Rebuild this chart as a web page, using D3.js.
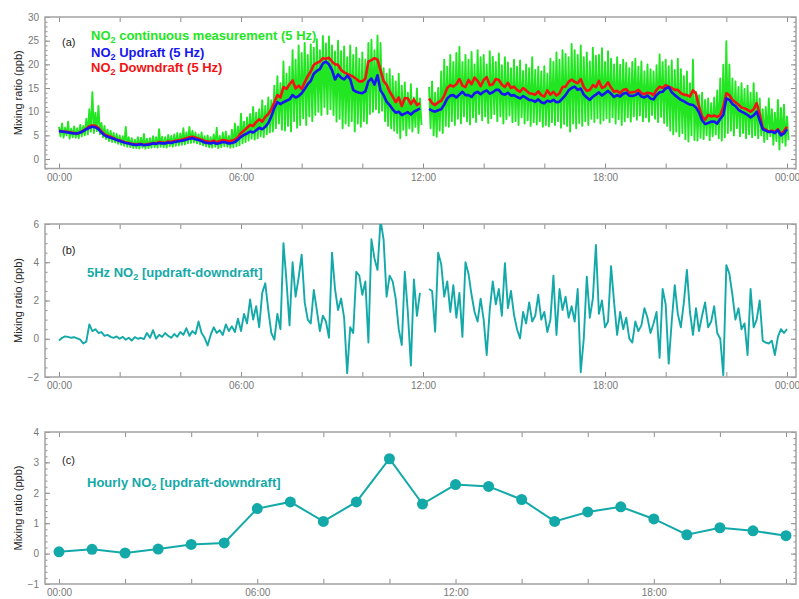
<!DOCTYPE html>
<html>
<head>
<meta charset="utf-8">
<script src="https://cdn.jsdelivr.net/npm/d3@7"></script>
<style>
  body { margin: 0; background: #fff; }
  svg { display: block; font-family: "Liberation Sans", Arial, sans-serif; }
</style>
</head>
<body>
<svg id="chart" width="799" height="599"></svg>
<script>
// Sampling interval of the 5 Hz series after block averaging (hours)
const step = 0.1;

// NO2 updraft (ppb), one row per hour, 0.1 h apart; null = no data
const upVals = [
  5.9, 5.8, 5.7, 5.6, 5.5, 5.4, 5.4, 5.6, 5.9, 6.3,
  6.6, 6.8, 6.7, 6.3, 5.6, 5.0, 4.7, 4.5, 4.3, 4.0,
  3.8, 3.6, 3.4, 3.3, 3.1, 3.0, 3.0, 3.1, 2.9, 3.0,
  3.1, 3.3, 3.2, 3.4, 3.3, 3.3, 3.5, 3.4, 3.6, 3.7,
  3.8, 3.9, 4.1, 4.3, 4.4, 4.2, 4.0, 3.8, 3.5, 3.4,
  3.3, 3.5, 3.2, 3.4, 3.6, 3.5, 3.3, 3.4, 3.6, 4.1,
  4.7, 5.1, 5.4, 5.8, 5.6, 6.1, 6.6, 6.3, 6.8, 7.6,
  9.0, 10.8, 12.0, 11.6, 12.0, 12.3, 12.6, 13.5, 13.0, 13.3,
  13.9, 14.8, 15.8, 16.5, 18.0, 18.6, 19.0, 20.2, 20.6, 20.0,
  18.8, 16.8, 17.9, 17.2, 16.8, 17.6, 16.9, 14.6, 14.2, 14.0,
  13.9, 14.3, 16.4, 17.0, 15.7, 17.7, 14.5, 13.5, 12.1, 11.4,
  10.5, 9.8, 10.0, 9.3, 9.6, 9.9, 9.4, 10.0, 10.3, 10.7,
  null, null, 10.6, 10.2, 10.0, 10.3, 10.5, 11.5, 12.8, 13.4,
  13.5, 13.0, 13.6, 14.2, 13.5, 13.5, 13.1, 13.9, 14.2, 13.7,
  14.2, 14.5, 13.8, 14.1, 14.6, 14.6, 13.8, 13.6, 14.0, 13.4,
  13.5, 13.1, 12.8, 13.3, 12.9, 12.5, 12.4, 12.1, 12.6, 12.0,
  11.8, 12.3, 12.1, 12.5, 12.0, 12.1, 12.8, 13.5, 14.5, 15.0,
  15.3, 14.6, 14.9, 13.6, 13.0, 12.5, 13.2, 13.6, 14.1, 13.4,
  13.9, 14.4, 13.8, 13.1, 13.5, 13.2, 13.8, 14.0, 13.4, 13.3,
  13.5, 13.9, 13.2, 13.0, 13.4, 12.8, 12.6, 13.5, 14.1, 14.2,
  14.9, 15.2, 14.1, 13.5, 13.0, 12.5, 12.2, 11.8, 11.5, 11.4,
  10.9, 9.8, 8.2, 7.4, 7.6, 7.9, 7.9, 7.5, 8.5, 9.3,
  12.8, 12.5, 11.6, 11.2, 10.4, 10.0, 9.7, 9.3, 8.8, 9.2,
  10.0, 8.2, 6.3, 6.0, 5.7, 5.8, 5.5, 6.1, 5.0, 5.4,
  6.3
];

// NO2 downdraft (ppb)
const downVals = [
  6.0, 5.8, 5.8, 5.7, 5.6, 5.5, 5.4, 5.6, 6.0, 6.4,
  6.9, 7.1, 7.0, 6.6, 5.8, 5.2, 4.9, 4.7, 4.4, 4.1,
  3.9, 3.7, 3.5, 3.4, 3.2, 3.1, 3.1, 3.2, 3.0, 3.1,
  3.2, 3.4, 3.3, 3.6, 3.5, 3.4, 3.7, 3.6, 3.8, 3.9,
  4.0, 4.2, 4.4, 4.6, 4.7, 4.5, 4.3, 4.1, 3.8, 3.7,
  3.6, 3.9, 3.5, 3.8, 4.0, 3.9, 3.7, 3.9, 4.1, 4.6,
  5.5, 6.0, 6.6, 7.2, 7.0, 7.8, 8.4, 7.9, 8.9, 9.5,
  10.5, 12.0, 13.5, 13.0, 15.2, 14.8, 15.8, 16.6, 14.9, 15.5,
  14.8, 16.2, 17.5, 18.5, 19.9, 20.3, 20.6, 21.3, 21.2, 21.4,
  20.6, 20.0, 19.9, 18.8, 18.3, 18.0, 17.7, 17.4, 16.9, 16.4,
  16.4, 17.0, 20.6, 20.9, 21.3, 21.0, 18.8, 16.5, 15.7, 14.2,
  13.2, 12.0, 13.0, 11.2, 12.9, 12.8, 11.6, 12.6, 11.4, 11.8,
  null, null, 12.8, 11.8, 11.4, 12.0, 12.3, 13.4, 15.0, 15.6,
  15.3, 15.8, 16.9, 15.5, 15.2, 16.7, 15.8, 17.2, 16.5, 15.4,
  16.7, 17.3, 15.6, 15.8, 16.9, 16.7, 15.7, 15.2, 16.1, 15.0,
  15.3, 14.6, 14.2, 15.0, 14.5, 13.9, 13.8, 13.6, 14.3, 13.5,
  13.2, 14.5, 13.6, 14.2, 13.4, 13.9, 15.2, 15.3, 16.3, 16.8,
  16.3, 16.0, 16.9, 15.2, 14.4, 14.6, 15.6, 15.2, 16.5, 15.0,
  15.3, 16.2, 15.1, 14.2, 14.4, 13.9, 14.6, 14.8, 14.0, 14.1,
  14.2, 14.6, 13.9, 13.7, 14.0, 13.9, 13.5, 14.6, 15.3, 15.0,
  15.6, 15.3, 15.0, 14.6, 14.6, 13.9, 13.6, 13.5, 13.2, 14.5,
  13.8, 11.0, 9.0, 8.3, 9.3, 9.0, 9.2, 8.9, 9.3, 11.0,
  13.9, 13.5, 12.5, 12.0, 11.5, 10.9, 10.7, 10.4, 10.0, 10.5,
  11.8, 9.5, 6.5, 6.2, 5.8, 6.0, 5.7, 6.3, 5.3, 5.9,
  6.8
];

// Continuous NO2 measurement: upper and lower excursions in each 0.1 h block (ppb)
const contHigh = [
  6.8, 7.5, 6.6, 7.9, 6.4, 6.9, 6.5, 7.2, 7.0, 8.5,
  10.5, 14.1, 9.8, 11.2, 7.6, 7.0, 6.2, 6.0, 5.5, 5.3,
  5.0, 4.8, 6.8, 4.6, 4.4, 4.1, 4.6, 4.5, 5.3, 4.3,
  4.4, 4.8, 4.6, 6.3, 4.7, 4.6, 5.1, 4.9, 5.2, 5.5,
  5.4, 6.5, 5.6, 6.8, 6.0, 5.6, 5.2, 5.6, 4.8, 5.0,
  4.6, 5.2, 6.6, 4.9, 5.6, 5.8, 4.9, 6.2, 7.5, 6.9,
  9.6, 7.9, 8.8, 9.5, 11.0, 9.8, 10.5, 12.4, 11.2, 13.0,
  12.4, 15.5, 17.5, 16.0, 20.6, 18.0, 19.5, 23.0, 21.0, 24.0,
  22.4, 24.5, 22.0, 24.2, 23.5, 25.3, 23.0, 26.0, 24.4, 25.9,
  24.0, 22.7, 25.0, 22.8, 23.8, 21.5, 24.0, 22.0, 23.5, 21.2,
  22.5, 21.0, 24.5, 25.2, 23.0, 26.1, 24.5, 19.2, 18.0, 19.0,
  17.5, 16.4, 18.0, 15.5, 16.2, 14.0, 15.8, 13.0, 14.9, 12.8,
  null, null, 15.2, 16.4, 14.0, 15.0, 18.5, 21.0, 19.5, 22.0,
  20.5, 22.4, 23.7, 20.5, 22.0, 21.0, 22.6, 20.0, 23.0, 21.5,
  22.0, 20.0, 22.8, 21.6, 20.5, 22.3, 19.8, 21.5, 20.4, 19.2,
  21.0, 19.5, 20.8, 18.6, 20.0, 19.2, 21.5, 18.8, 19.5, 18.5,
  19.6, 18.0, 21.2, 20.5, 22.5, 21.0, 23.0, 22.2, 21.5, 24.3,
  23.0, 22.0, 24.0, 21.5, 22.5, 20.6, 23.5, 21.8, 22.0, 23.4,
  20.5, 22.8, 21.2, 20.0, 21.5, 19.9, 21.0, 20.3, 19.2, 20.5,
  21.2, 19.5, 20.6, 18.5, 20.0, 19.0, 18.5, 19.8, 22.1, 20.5,
  21.0, 19.6, 20.8, 18.8, 21.2, 19.0, 17.5, 18.5, 16.0, 21.0,
  14.2, 13.5, 14.0, 12.5, 12.8, 11.8, 13.0, 14.5, 17.0, 19.9,
  24.9, 20.0, 17.0, 16.4, 15.2, 16.0, 14.8, 15.5, 14.0, 16.0,
  14.0, 12.8, 10.5, 11.0, 12.8, 10.5, 9.8, 12.5, 10.8, 11.5,
  9.0
];
const contLow = [
  4.8, 4.5, 5.0, 4.3, 4.6, 4.5, 4.4, 4.8, 5.0, 5.2,
  5.8, 5.5, 5.9, 5.2, 4.6, 4.2, 3.8, 3.6, 3.5, 3.2,
  3.0, 2.8, 2.6, 2.5, 2.3, 2.3, 2.2, 2.4, 2.2, 2.3,
  2.4, 2.5, 2.4, 2.6, 2.5, 2.4, 2.7, 2.6, 2.8, 2.9,
  3.0, 3.1, 3.3, 3.4, 3.5, 3.3, 3.1, 2.9, 2.7, 2.5,
  2.4, 2.6, 2.3, 2.5, 2.7, 2.6, 2.4, 2.5, 2.7, 2.9,
  3.3, 3.6, 3.9, 4.3, 4.1, 4.4, 4.8, 4.6, 5.2, 5.6,
  5.8, 6.5, 7.5, 6.2, 6.0, 7.0, 5.8, 8.0, 6.6, 7.2,
  8.6, 7.2, 9.0, 8.0, 9.3, 10.0, 9.3, 11.0, 9.5, 10.5,
  9.3, 7.9, 8.5, 6.5, 7.5, 7.0, 8.0, 5.8, 7.5, 6.8,
  8.0, 7.5, 9.5, 10.0, 10.5, 9.8, 10.2, 8.0, 7.0, 6.5,
  6.0, 5.5, 4.4, 6.2, 5.0, 6.5, 5.8, 6.8, 5.5, 7.2,
  null, null, 6.5, 5.0, 4.7, 6.0, 5.5, 7.0, 6.8, 8.0,
  7.2, 8.5, 7.5, 9.0, 8.0, 7.3, 8.8, 7.8, 9.5, 8.2,
  9.0, 7.6, 8.6, 9.5, 8.0, 9.0, 7.5, 8.4, 9.2, 7.8,
  8.0, 7.2, 8.8, 7.5, 8.2, 7.0, 7.8, 7.3, 8.0, 6.8,
  7.2, 6.9, 7.8, 7.2, 8.0, 6.6, 7.4, 7.0, 5.8, 7.5,
  6.5, 7.6, 7.0, 8.0, 7.2, 8.5, 7.8, 8.6, 7.5, 8.2,
  8.6, 7.8, 8.8, 7.5, 8.4, 7.2, 8.0, 8.8, 7.9, 9.0,
  8.3, 9.2, 8.0, 8.8, 7.9, 9.3, 8.5, 7.8, 8.9, 7.6,
  7.0, 6.0, 5.2, 5.8, 4.8, 5.5, 4.2, 3.7, 5.0, 4.0,
  3.9, 4.5, 4.2, 5.0, 4.0, 4.8, 5.2, 4.4, 3.9, 4.6,
  5.5, 6.0, 5.0, 6.5, 4.8, 5.5, 4.4, 5.2, 4.6, 5.0,
  4.4, 5.0, 3.6, 4.2, 4.8, 3.0, 3.8, 2.0, 3.5, 2.8,
  4.0
];

// 5 Hz NO2 difference [updraft-downdraft] (ppb)
const diffVals = [
  -0.1, 0.05, 0.12, 0.1, 0.05, 0.08, 0.02, -0.05, -0.25, -0.15,
  0.75, 0.4, 0.5, 0.3, 0.35, 0.15, 0.2, 0.1, 0.05, 0.12,
  0.0, 0.1, -0.05, 0.05, -0.1, 0.08, 0.0, 0.05, -0.02, 0.3,
  0.05, 0.45, 0.0, 0.2, 0.1, 0.3, 0.15, 0.05, 0.25, 0.1,
  0.35, 0.2, 0.55, 0.15, 0.4, 0.25, 0.9, 0.3, 0.05, -0.35,
  0.2, 0.6, 0.3, 0.45, 0.2, 0.75, 0.4, 0.65, 0.35, 1.05,
  0.4, 1.3, 0.8, 2.05, 1.0, 1.7, 0.6, 2.4, 2.9, 1.5,
  0.3, -0.05, 1.3, 0.5, 5.0, 3.0, 0.7, 4.0, 2.2, 3.2,
  4.4, 1.9, 1.0, 0.8, 2.55, 1.5, 0.4, 1.2, 0.9, 0.05,
  4.5, 2.6, 1.5, 2.1, 1.1, -1.8, 0.6, 0.3, 3.5, 3.3,
  2.3, 3.0, -0.2, 5.2, 4.2, 3.6, 6.2, 5.2, 2.2, 3.3,
  3.0, 2.1, 0.5, -0.33, 3.5, 1.4, -1.4, 3.1, 1.2, 2.4,
  null, null, 2.6, 2.5, 0.37, 4.5, 3.9, 2.2, 3.0, 1.4,
  2.8, 1.1, 2.4, 0.1, 4.0, 3.4, 2.3, 1.4, 0.9, 2.1,
  1.0, -0.85, 1.5, 3.0, 1.8, 2.6, 1.2, 3.95, 1.6, 2.5,
  1.25, 0.5, 0.02, 1.4, 0.8, 1.9, 0.9, 1.2, 2.3, 1.0,
  1.4, 0.35, 1.0, 3.3, 0.2, 2.6, 1.5, 2.2, 1.1, 1.7,
  0.9, 2.6, -1.75, 0.0, 3.25, 1.1, 2.1, 4.9, 1.3, 2.0,
  0.6, 0.9, 3.8, 1.9, 0.2, 1.4, 0.5, 1.1, 0.02, -0.2,
  0.9, 0.4, 0.7, 1.6, 1.1, 0.3, 0.8, 1.4, -1.0, 2.6,
  1.8, -1.3, 0.9, 2.8, 1.3, 0.6, 1.9, 3.6, 1.4, 0.2,
  1.6, 0.4, 1.2, 1.9, 0.6, 0.9, 1.7, 0.3, 0.0, -1.9,
  3.85, 3.4, 2.3, 1.0, 1.6, 0.5, 0.8, -0.85, 2.6, 0.6,
  1.0, 2.0, -0.1, -0.2, -0.25, -0.1, -0.85, 0.1, 0.5, 0.3,
  0.5
];

// Hourly NO2 difference [updraft-downdraft] (ppb), hours 00..22
const hourlyHours = [0, 1, 2, 3, 4, 5, 6, 7, 8, 9, 10, 11, 12, 13, 14, 15, 16, 17, 18, 19, 20, 21, 22];
const hourlyVals = [0.06, 0.14, 0.02, 0.15, 0.3, 0.35, 1.48, 1.7, 1.06, 1.7, 3.12, 1.63,
                    2.27, 2.21, 1.78, 1.06, 1.37, 1.54, 1.14, 0.62, 0.85, 0.75, 0.59];

// Axis ticks
const dayTicks = [0, 2, 4, 6, 8, 10, 12, 14, 16, 18, 20, 22, 24];
const hourlyTicks = [0, 2, 4, 6, 8, 10, 12, 14, 16, 18, 20, 22];
const labelledHours = [0, 6, 12, 18, 24];
const yTicksA = [0, 5, 10, 15, 20, 25, 30];
const yTicksB = [-2, 0, 2, 4, 6];
const yTicksC = [-1, 0, 1, 2, 3, 4];

const svg = d3.select('#chart');
const frameLeft = 45, frameRight = 796;
const tickGrey = '#8e8e8e';
const teal = '#14a9a9';

const fmtHour = h => d3.format('02d')(h % 24) + ':00';
const fmtInt = d3.format('d');

function toSeries(vals) {
  return vals.map((v, i) => ({ t: i * step, v }));
}

function drawFrame(id, x, y, top, bottom, xTicks, yMajor, yMinor) {
  const g = svg.append('g');
  const clip = svg.append('clipPath').attr('id', id);
  clip.append('rect').attr('x', frameLeft).attr('y', top)
    .attr('width', frameRight - frameLeft).attr('height', bottom - top);

  g.append('g').attr('transform', `translate(0,${bottom})`)
    .call(d3.axisBottom(x).tickValues(xTicks).tickSize(-5).tickPadding(5)
      .tickFormat(h => labelledHours.includes(h) ? fmtHour(h) : ''));
  g.append('g').attr('transform', `translate(0,${top})`)
    .call(d3.axisTop(x).tickValues(xTicks).tickSize(-5).tickFormat(''));
  g.append('g').attr('transform', `translate(${frameLeft},0)`)
    .call(d3.axisLeft(y).tickValues(yMajor).tickSize(-5).tickPadding(6).tickFormat(fmtInt));
  g.append('g').attr('transform', `translate(${frameLeft},0)`)
    .call(d3.axisLeft(y).tickValues(yMinor).tickSize(-2.5).tickFormat(''));
  g.append('g').attr('transform', `translate(${frameRight},0)`)
    .call(d3.axisRight(y).tickValues(yMajor).tickSize(-5).tickFormat(''));
  g.append('g').attr('transform', `translate(${frameRight},0)`)
    .call(d3.axisRight(y).tickValues(yMinor).tickSize(-2.5).tickFormat(''));

  g.selectAll('.domain').remove();
  g.selectAll('.tick line').attr('stroke', tickGrey).attr('stroke-width', 1);
  g.selectAll('.tick text').attr('fill', '#787878')
    .attr('font-family', '"Liberation Sans", Arial, sans-serif').attr('font-size', 10);

  g.append('rect').attr('x', frameLeft).attr('y', top)
    .attr('width', frameRight - frameLeft).attr('height', bottom - top)
    .attr('fill', 'none').attr('stroke', '#a2a2a2').attr('stroke-width', 1.5);

  svg.append('text')
    .attr('transform', `translate(21.5,${(top + bottom) / 2}) rotate(-90)`)
    .attr('text-anchor', 'middle').attr('font-size', 11).attr('fill', '#222')
    .text('Mixing ratio (ppb)');
  return g;
}

function label(xp, yp, parts, color, size, weight) {
  const t = svg.append('text').attr('x', xp).attr('y', yp)
    .attr('fill', color).attr('font-size', size).attr('font-weight', weight);
  parts.forEach(p => {
    const s = t.append('tspan').text(p.s);
    if (p.sub) s.attr('font-size', size * 0.7).attr('dy', 3);
    if (p.after) s.attr('dy', -3);
  });
  return t;
}
const no2 = rest => [{ s: 'NO' }, { s: '2', sub: true }, { s: rest, after: true }];

// ---------- Panel (a) ----------
const xA = d3.scaleLinear().domain([0, 24]).range([59, 787]);
const yA = d3.scaleLinear().domain([-2, 30]).range([168.5, 17]);
drawFrame('clipA', xA, yA, 17, 168.5, dayTicks, yTicksA, d3.range(-2, 30.01, 1));

const lineA = d3.line().defined(d => d.v != null).x(d => xA(d.t)).y(d => yA(d.v));
const contSeries = [];
contHigh.forEach((hv, i) => {
  contSeries.push({ t: i * step, v: hv });
  contSeries.push({ t: i * step + step / 2, v: contLow[i] });
});
const plotA = svg.append('g').attr('clip-path', 'url(#clipA)');
plotA.append('path').datum(contSeries).attr('d', lineA)
  .attr('fill', 'none').attr('stroke', '#22e622').attr('stroke-width', 1.9)
  .attr('stroke-linejoin', 'round');
plotA.append('path').datum(toSeries(downVals)).attr('d', lineA)
  .attr('fill', 'none').attr('stroke', '#f21414').attr('stroke-width', 2.6)
  .attr('stroke-linejoin', 'round');
plotA.append('path').datum(toSeries(upVals)).attr('d', lineA)
  .attr('fill', 'none').attr('stroke', '#1616ee').attr('stroke-width', 2.6)
  .attr('stroke-linejoin', 'round');

label(62, 46, [{ s: '(a)' }], '#222', 11, 'normal');
label(91, 40, no2(' continuous measurement (5 Hz)'), '#22e622', 13, 'bold');
label(91, 56.5, no2(' Updraft (5 Hz)'), '#1616ee', 13, 'bold');
label(91, 72, no2(' Downdraft (5 Hz)'), '#f21414', 13, 'bold');

// ---------- Panel (b) ----------
const xB = d3.scaleLinear().domain([0, 24]).range([59, 787]);
const yB = d3.scaleLinear().domain([-2, 6]).range([377, 224]);
drawFrame('clipB', xB, yB, 224, 377, dayTicks, yTicksB, d3.range(-2, 6.01, 0.5));

const lineB = d3.line().defined(d => d.v != null).x(d => xB(d.t)).y(d => yB(d.v));
svg.append('g').attr('clip-path', 'url(#clipB)')
  .append('path').datum(toSeries(diffVals)).attr('d', lineB)
  .attr('fill', 'none').attr('stroke', teal).attr('stroke-width', 1.9)
  .attr('stroke-linejoin', 'round');

label(62, 254, [{ s: '(b)' }], '#222', 11, 'normal');
label(87, 277, [{ s: '5Hz NO' }, { s: '2', sub: true }, { s: ' [updraft-downdraft]', after: true }], teal, 13, 'bold');

// ---------- Panel (c) ----------
const xC = d3.scaleLinear().domain([0, 22]).range([59, 786]);
const yC = d3.scaleLinear().domain([-1, 4]).range([584, 432]);
drawFrame('clipC', xC, yC, 432, 584, hourlyTicks, yTicksC, d3.range(-1, 4.01, 0.2));

const hourly = hourlyHours.map((h, i) => ({ t: h, v: hourlyVals[i] }));
const plotC = svg.append('g').attr('clip-path', 'url(#clipC)');
plotC.append('path').datum(hourly)
  .attr('d', d3.line().x(d => xC(d.t)).y(d => yC(d.v)))
  .attr('fill', 'none').attr('stroke', teal).attr('stroke-width', 2);
plotC.selectAll('circle').data(hourly).join('circle')
  .attr('cx', d => xC(d.t)).attr('cy', d => yC(d.v)).attr('r', 5.5)
  .attr('fill', teal);

label(62, 464, [{ s: '(c)' }], '#222', 11, 'normal');
label(87, 487, [{ s: 'Hourly NO' }, { s: '2', sub: true }, { s: ' [updraft-downdraft]', after: true }], teal, 13, 'bold');
</script>
</body>
</html>
